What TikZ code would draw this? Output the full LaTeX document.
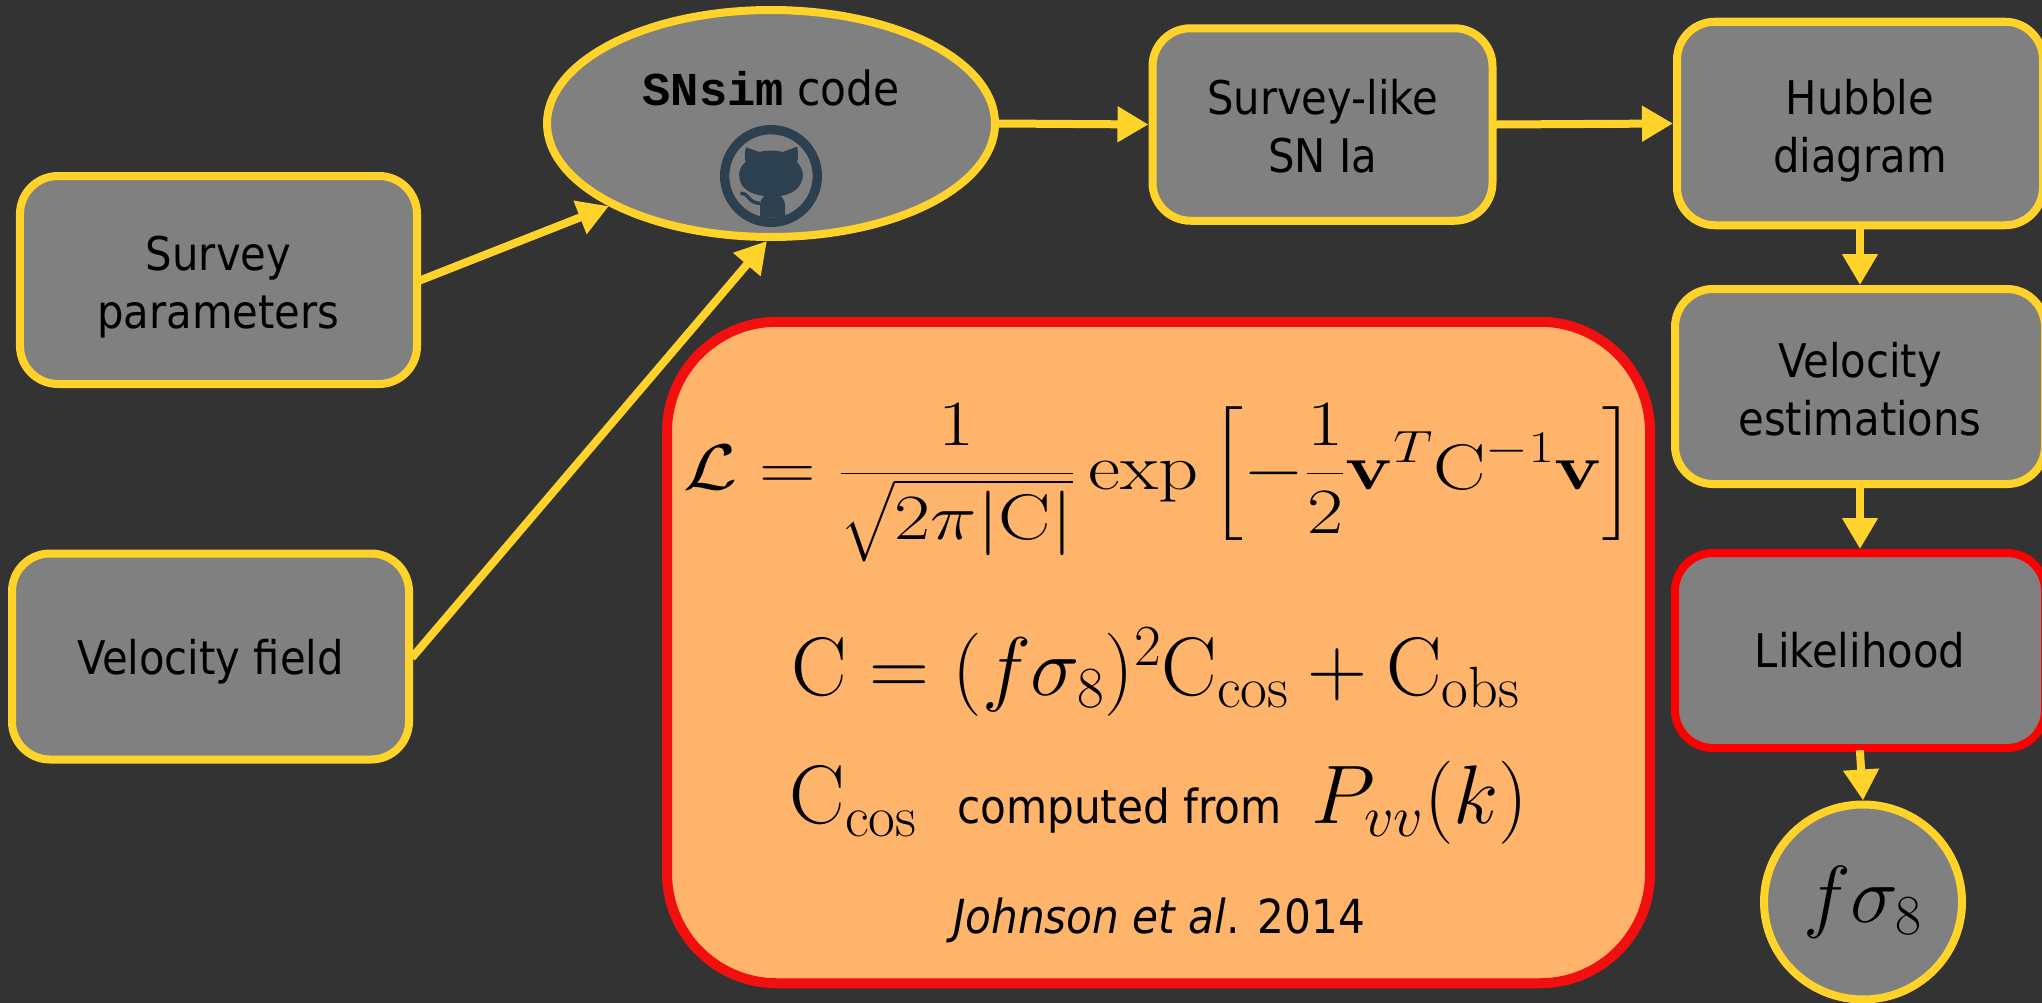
\RequirePackage{fix-cm}
\documentclass[tikz,border=0pt]{standalone}
\usepackage{amsmath}
\usepackage[no-math]{fontspec}
\setmainfont{DejaVu Sans Condensed}
\setmonofont{Liberation Mono}
\usetikzlibrary{shapes.geometric,arrows.meta}
\definecolor{slidebg}{HTML}{333333}
\definecolor{boxgray}{HTML}{808080}
\definecolor{flowyellow}{HTML}{FFD329}
\definecolor{likered}{HTML}{FF0000}
\definecolor{panelred}{HTML}{F20F0F}
\definecolor{panelfill}{HTML}{FFB46C}
\definecolor{ghblue}{HTML}{2C4050}
\newcommand{\labelstrut}[1]{\rule{0pt}{#1cm}}
\tikzset{
    flowbox/.style={rectangle, rounded corners=0.76cm, draw=flowyellow, fill=boxgray, line width=0.16cm, align=center, font=\fontsize{26.4}{33}\selectfont},
    flowell/.style={ellipse, draw=flowyellow, fill=boxgray, line width=0.16cm, inner sep=0pt},
    flowedge/.style={draw=flowyellow, line width=0.16cm, -{Triangle[length=0.62cm, width=0.68cm]}, shorten <=-1pt},
    eqtext/.style={inner sep=0pt, font=\fontsize{47.3}{52}\selectfont}
}

\begin{document}
\begin{tikzpicture}
    \useasboundingbox (0,0) rectangle (40.84,-20.06);
    \fill[slidebg] (0,0) rectangle (40.84,-20.06);

    % Nodes
    \node[flowbox, minimum width=7.94cm, minimum height=4.16cm] (survey) at (4.37,-5.6) {\labelstrut{0.96}Survey\\parameters};
    \node[flowbox, minimum width=7.94cm, minimum height=4.12cm] (velfield) at (4.21,-13.13) {\labelstrut{0.9}Velocity field};
    \node[flowell, minimum width=8.96cm, minimum height=4.54cm] (snsim) at (15.42,-2.47) {};
    \node[flowbox, minimum width=6.8cm, minimum height=3.85cm] (surveylike) at (26.45,-2.49) {\labelstrut{0.78}Survey-like\\SN Ia};
    \node[flowbox, minimum width=7.32cm, minimum height=4.07cm] (hubble) at (37.2,-2.47) {\labelstrut{0.98}Hubble\\diagram};
    \node[flowbox, minimum width=7.4cm, minimum height=3.9cm] (velest) at (37.2,-7.73) {\labelstrut{0.8}Velocity\\estimations};
    \node[flowbox, draw=likered, minimum width=7.4cm, minimum height=3.9cm] (likelihood) at (37.2,-13.01) {Likelihood};
    \node[flowell, minimum width=3.96cm, minimum height=3.9cm] (fsigma) at (37.26,-18.04) {\fontsize{46}{46}\selectfont$f\sigma_8$};

    \node[inner sep=0pt, font=\fontsize{26.8}{30}\selectfont] (snsimtext) at (15.42,-1.75) {\texttt{\textbf{SNsim}} code};

    % GitHub mark
    \begin{scope}[shift={(15.42,-3.52)}, x=0.00667cm, y=-0.00667cm]
        \fill[ghblue, even odd rule] (0,0) circle (153) circle (125);
        \fill[ghblue] (-75,-86) -- (-35,-72) .. controls (-12,-78) and (12,-78) .. (35,-72) -- (78,-88)
            .. controls (82,-70) and (82,-55) .. (78,-42) .. controls (92,-28) and (100,-5) .. (94,10)
            .. controls (86,40) and (60,55) .. (28,60) .. controls (38,68) and (42,78) .. (42,90) -- (42,125)
            -- (-33,125) -- (-33,90) .. controls (-33,75) and (-28,66) .. (-20,60)
            .. controls (-60,55) and (-88,40) .. (-94,10) .. controls (-100,-10) and (-92,-30) .. (-76,-42)
            .. controls (-80,-55) and (-80,-72) .. (-75,-86) -- cycle;
        \draw[ghblue, line width=0.07cm] (-92,52) .. controls (-65,50) and (-70,82) .. (-32,82);
    \end{scope}

    % Likelihood panel
    \node[rectangle, rounded corners=2.2cm, draw=panelred, fill=panelfill, line width=0.2cm, minimum width=19.66cm, minimum height=13.23cm] (panel) at (23.17,-13.05) {};
    \node[inner sep=0pt, font=\fontsize{36}{40}\selectfont] (eqlike) at (23.18,-9.66) {\scalebox{1.24}[1.02]{$\displaystyle\mathcal{L}=\frac{1}{\sqrt{2\pi|\mathrm{C}|}}\exp\left[-\frac{1}{2}\mathbf{v}^{T}\mathrm{C}^{-1}\mathbf{v}\rule[-0.98cm]{0pt}{2.6cm}\right]$}};
    \node[eqtext] (eqcov) at (23.11,-13.44) {$\mathrm{C}=(f\sigma_8)^2\mathrm{C}_{\cos}+\mathrm{C}_{\mathrm{obs}}$};
    \node[eqtext] (eqcos) at (23.18,-16.06) {$\mathrm{C}_{\cos}$\hspace{0.8cm}{\fontsize{26.7}{30}\selectfont computed from}\hspace{0.6cm}$P_{vv}(k)$};
    \node[inner sep=0pt, font=\fontsize{26.7}{30}\selectfont] (refjohnson) at (23.18,-18.4) {\textit{Johnson et al}. 2014};

    % edges
    \draw[flowedge] (survey.east) -- (snsim.207);
    \draw[flowedge] (velfield.east) -- (snsim.268);
    \draw[flowedge] (snsim.east) -- (surveylike.west);
    \draw[flowedge] (surveylike.east) -- (hubble.west);
    \draw[flowedge] (hubble.south) -- (velest.north);
    \draw[flowedge] (velest.south) -- (likelihood.north);
    \draw[flowedge] (likelihood.south) -- (fsigma.north);
\end{tikzpicture}
\end{document}
